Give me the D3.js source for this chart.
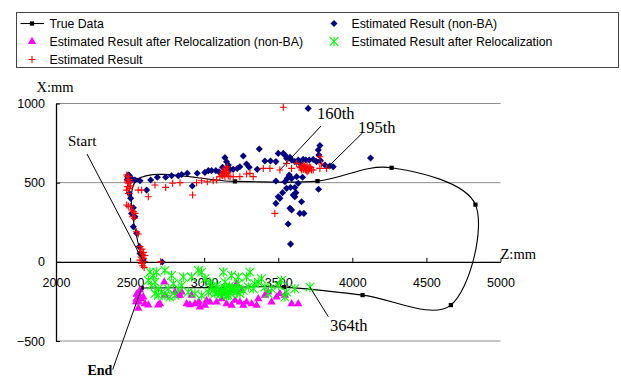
<!DOCTYPE html>
<html>
<head>
<meta charset="utf-8">
<script src="https://cdn.jsdelivr.net/npm/d3@7"></script>
<style>
  body { margin: 0; background: #fff; }
  svg { display: block; }
  .tick text { font-family: "Liberation Sans", Arial, sans-serif; font-size: 12.5px; fill: #000; }
</style>
</head>
<body>
<svg id="chart" width="621" height="376"></svg>
<script>
// true trajectory (Z, X in mm)
const trueZ = [2590, 2545, 3208, 3765, 4265, 4831, 4665, 4069, 3540, 3050, 2578];
const trueX = [0, 517, 508, 510, 594, 361, -273, -210, -160, -163, -165];

// Estimated Result (non-BA)
const nonBaZ = [2488, 2515, 2533, 2567, 2612, 2639, 2684, 2740, 2780, 2825, 2848, 2886, 2953, 3005, 3028, 3050, 3079, 3100,
  3124, 3140, 3151, 3163, 3174, 3196, 3223, 3241, 3264, 3286, 3304, 3358, 3372, 3410, 3448, 3484, 3500, 3534, 3545, 3556,
  3579, 3590, 3612, 3635, 3646, 3668, 3686, 3709, 3736, 3758, 3781, 3770, 3774, 3785, 3815, 3848, 3871, 4123, 3702, 2920, 2717,
  3484, 3545, 3561, 3574, 3590, 3624, 3635, 3664, 3556, 3583, 3612, 3529, 3601, 3612, 3619, 3511, 3657, 3579, 3590, 3646,
  3673, 3567, 3583, 3772, 3484, 3500,
  2504, 2495, 2522, 2510, 2533, 2522, 2544, 2562, 2578, 2589, 2567, 2484, 2499, 2495, 2480];
const nonBaX = [548, 521, 517, 512, 453, 517, 534, 534, 544, 544, 552, 559, 559, 565, 576, 576, 576, 569,
  597, 658, 632, 611, 584, 584, 590, 601, 668, 618, 597, 584, 713, 637, 637, 633, 685, 685, 675, 654,
  660, 643, 633, 643, 622, 647, 643, 643, 647, 633, 734, 706, 675, 639, 612, 605, 601, 656, 969, 479, -1,
  510, 506, 527, 548, 527, 538, 496, 534, 464, 470, 470, 437, 422, 411, 437, 401, 380, 338, 327, 306,
  306, 239, 112, 458, 369, 411,
  401, 432, 342, 306, 285, 222, 180, 96, 43, 11, 53, 538, 517, 545, 520];

// Estimated Result after Relocalization (non-BA)
const relocNonBaZ = [2555, 2544, 2560, 2573, 2600, 2589, 2731, 2735, 2702, 2803, 2837, 2882, 2904, 2938, 2965, 2971, 3005,
  3016, 3039, 3084, 3118, 3140, 3151, 3185, 3208, 3219, 3241, 3264, 3286, 3320, 3354, 3365, 3410, 3432, 3455, 3489, 3511,
  3545, 3590, 3635, 2848, 2825, 2915, 3253, 2544, 2555, 2540, 2623, 2567, 2690];
const relocNonBaX = [-201, -233, -254, -233, -265, -222, -128, -212, -265, -191, -212, -265, -271, -265, -254, -286, -275,
  -244, -254, -254, -233, -201, -265, -275, -244, -138, -254, -275, -254, -265, -275, -233, -212, -191, -254, -222, -201,
  -212, -265, -265, -191, -212, -212, -180, -205, -294, -252, -273, -178, -273];

// Estimated Result after Relocalization
const relocZ = [2634, 2657, 2679, 2623, 2645, 2668, 2690, 2713, 2735, 2690, 2668, 2758, 2792, 2825, 2848, 2859, 2915, 2960,
  2983, 3005, 3039, 3050, 3084, 3095, 3118, 3140, 3140, 3151, 3163, 3185, 3208, 3230, 3241, 3264, 3286, 3298, 3309, 3331,
  3342, 3365, 3387, 3410, 3432, 3455, 3500, 3522, 3545, 3556, 3612, 3714, 2735, 2780, 3129, 3185, 3230, 3073, 3028, 2983,
  2938, 2893, 2803, 2769, 3100, 3120, 3140, 3160, 3180, 3200, 3220, 3170, 3110, 3060, 3230, 3150, 3190];
const relocX = [-65, -86, -65, -117, -149, -128, -170, -191, -212, -212, -201, -170, -138, -170, -149, -96, -96, -54,
  -65, -107, -128, -159, -149, -191, -180, -128, -201, -170, -212, -180, -170, -138, -201, -180, -96, -159, -65, -170,
  -138, -128, -107, -159, -201, -170, -149, -117, -222, -191, -170, -160, -54, -86, -65, -86, -96, -201, -191, -212,
  -201, -191, -212, -222, -175, -190, -165, -185, -200, -180, -190, -155, -205, -180, -170, -215, -165];

// Estimated Result
const estZ = [2477, 2488, 2483, 2488, 2483, 2495, 2477, 2488, 2499, 2504, 2477, 2488, 2504, 2510, 2522, 2533, 2517, 2528,
  2544, 2555, 2567, 2571, 2585, 2589, 2578, 2567, 2594, 2580, 2590, 2575, 2600, 2585, 2595, 2492, 2485,
  2555, 2578, 2623, 2668, 2740, 2787, 2837, 2922, 2949, 2983, 3021, 3061, 3084, 3106, 3118, 3129, 3134, 3140, 3151, 3163,
  3174, 3196, 3241, 3286, 3309, 3331, 3399, 3444, 3477, 3511, 3534, 3130, 3145, 3150, 3135, 3155, 3125, 3160,
  3556, 3590, 3624, 3646, 3657, 3668, 3680, 3691, 3702, 3713, 3673, 3695, 3725, 3736, 3781, 3792, 3826, 3781, 3650, 3660,
  3670, 3685, 3695, 3675, 3705, 3720, 2706];
const estX = [548, 538, 517, 496, 475, 464, 453, 432, 506, 479, 359, 352, 348, 327, 317, 306, 285, 275,
  190, 176, 96, 64, 43, 22, -10, 11, 1, 80, 60, 30, 40, -25, -35, 520, 505,
  453, 453, 411, 485, 470, 496, 500, 422, 500, 512, 506, 512, 517, 538, 548, 559, 580, 538, 559, 542,
  538, 538, 538, 555, 559, 538, 590, 590, 306, 580, 976, 570, 590, 575, 555, 600, 545, 565,
  622, 590, 622, 601, 580, 590, 601, 580, 590, 601, 611, 569, 580, 580, 590, 618, 590, 664, 595, 605,
  585, 580, 612, 600, 575, 595, 0];

const xTicks = [2000, 2500, 3000, 3500, 4000, 4500, 5000];
const yTicks = [-500, 0, 500, 1000];
const seriesNames = ['True Data', 'Estimated Result (non-BA)', 'Estimated Result after Relocalization (non-BA)',
  'Estimated Result after Relocalization', 'Estimated Result'];

const zip = (zs, xs) => zs.map((z, i) => ({ z: z, x: xs[i] }));

const svg = d3.select('#chart');
const x = d3.scaleLinear().domain([2000, 5000]).range([56, 500.5]);
const y = d3.scaleLinear().domain([-500, 1000]).range([341, 103.5]);

// gridlines
svg.append('g')
  .selectAll('line')
  .data([500, 1000])
  .enter()
  .append('line')
  .attr('x1', x(2000)).attr('x2', x(5000))
  .attr('y1', d => y(d)).attr('y2', d => y(d))
  .style('stroke', '#8c8c8c').style('stroke-width', 1);
svg.append('line')
  .attr('x1', x(2000)).attr('x2', x(5000))
  .attr('y1', y(-500)).attr('y2', y(-500))
  .style('stroke', '#c4c4c4').style('stroke-width', 2);

// axes
svg.append('g')
  .attr('transform', `translate(${x(2000)},0)`)
  .call(d3.axisLeft(y).tickValues(yTicks).tickFormat(d3.format('d'))
    .tickSizeInner(-4).tickSizeOuter(0).tickPadding(11));
svg.append('g')
  .attr('transform', `translate(0,${y(0)})`)
  .call(d3.axisBottom(x).tickValues(xTicks).tickFormat(d3.format('d'))
    .tickSizeInner(-4).tickSizeOuter(0).tickPadding(16));
svg.selectAll('.domain').style('stroke', '#000').style('stroke-width', 1.3);
svg.selectAll('.tick line').style('stroke', '#000');

// axis titles
svg.append('text')
  .attr('x', 36.5).attr('y', 92)
  .style('font-family', '"Liberation Serif", "Times New Roman", serif')
  .style('font-size', '14.5px')
  .text('X:mm');
svg.append('text')
  .attr('x', 500.5).attr('y', 258.5)
  .style('font-family', '"Liberation Serif", "Times New Roman", serif')
  .style('font-size', '14.5px')
  .text('Z:mm');

// true data line
const line = d3.line()
  .x(d => x(d.z))
  .y(d => y(d.x))
  .curve(d3.curveCardinal.tension(0));
const trueData = zip(trueZ, trueX);
svg.append('path')
  .datum(trueData)
  .attr('d', line)
  .style('fill', 'none')
  .style('stroke', '#000')
  .style('stroke-width', 1.1);

const squarePath = d3.symbol().type(d3.symbolSquare).size(18)();
const diamondPath = d3.symbol().type(d3.symbolSquare).size(25)();
const trianglePath = d3.symbol().type(d3.symbolTriangle).size(30)();
const plusPath = 'M-3.5,0H3.5M0,-3.5V3.5';
const starPath = 'M-4.3,-4.3L4.3,4.3M-4.3,4.3L4.3,-4.3M0,-4.8V4.8';

svg.append('g')
  .selectAll('path')
  .data(trueData)
  .enter()
  .append('path')
  .attr('d', squarePath)
  .attr('transform', d => `translate(${x(d.z)},${y(d.x)})`)
  .style('fill', '#000');

// Estimated Result (non-BA)
svg.append('g')
  .selectAll('path')
  .data(zip(nonBaZ, nonBaX))
  .enter()
  .append('path')
  .attr('d', diamondPath)
  .attr('transform', d => `translate(${x(d.z)},${y(d.x)}) rotate(45)`)
  .style('fill', '#000080');

// after relocalization (non-BA)
svg.append('g')
  .selectAll('path')
  .data(zip(relocNonBaZ, relocNonBaX))
  .enter()
  .append('path')
  .attr('d', trianglePath)
  .attr('transform', d => `translate(${x(d.z)},${y(d.x)})`)
  .style('fill', '#ff00ff');

// after relocalization
svg.append('g')
  .selectAll('path')
  .data(zip(relocZ, relocX))
  .enter()
  .append('path')
  .attr('d', starPath)
  .attr('transform', d => `translate(${x(d.z)},${y(d.x)})`)
  .style('fill', 'none')
  .style('stroke', '#00ff00')
  .style('stroke-width', 1.1);

// Estimated Result
svg.append('g')
  .selectAll('path')
  .data(zip(estZ, estX))
  .enter()
  .append('path')
  .attr('d', plusPath)
  .attr('transform', d => `translate(${x(d.z)},${y(d.x)})`)
  .style('fill', 'none')
  .style('stroke', '#ff0000')
  .style('stroke-width', 1.1);

// annotations: label position + pointer start (px), target in data units
const notes = [
  { label: 'Start', z: trueZ[0], x: trueX[0], tx: 68, ty: 146, lx: 87, ly: 154, size: 15, weight: 'normal' },
  { label: 'End', z: trueZ[trueZ.length - 1], x: trueX[trueX.length - 1], tx: 87.5, ty: 374.5, lx: 112.7, ly: 369.5, size: 14, weight: 'bold' },
  { label: '160th', z: 3511, x: 580, tx: 317, ty: 118.5, lx: 321, ly: 126, size: 16.5, weight: 'normal' },
  { label: '195th', z: 3826, x: 590, tx: 358, ty: 133, lx: 362.7, ly: 132.7, size: 16.5, weight: 'normal' },
  { label: '364th', z: 3714, x: -160, tx: 330, ty: 331, lx: 328.3, ly: 316.7, size: 16.5, weight: 'normal' }
];
svg.append('g')
  .selectAll('line')
  .data(notes)
  .enter()
  .append('line')
  .attr('x1', d => d.lx).attr('y1', d => d.ly)
  .attr('x2', d => x(d.z)).attr('y2', d => y(d.x))
  .style('stroke', '#000').style('stroke-width', 1);
svg.append('g')
  .selectAll('text')
  .data(notes)
  .enter()
  .append('text')
  .attr('x', d => d.tx).attr('y', d => d.ty)
  .style('font-family', '"Liberation Serif", "Times New Roman", serif')
  .style('font-size', d => d.size + 'px')
  .style('font-weight', d => d.weight)
  .text(d => d.label);

// legend
const legend = svg.append('g');
legend.append('rect')
  .attr('x', 16.5).attr('y', 12.5).attr('width', 602).attr('height', 55)
  .style('fill', '#fff').style('stroke', '#444').style('stroke-width', 1);
const legendPos = [
  { col: 0, row: 0 }, { col: 1, row: 0 }, { col: 0, row: 1 }, { col: 1, row: 1 }, { col: 0, row: 2 }
];
const colX = [32, 334];
const rowY = [23.5, 41.5, 59.5];
const items = legend.selectAll('g')
  .data(seriesNames)
  .enter()
  .append('g')
  .attr('transform', (d, i) => `translate(${colX[legendPos[i].col]},${rowY[legendPos[i].row]})`);
items.append('text')
  .attr('x', 17.5).attr('y', 0).attr('dy', '0.36em')
  .style('font-family', '"Liberation Sans", Arial, sans-serif')
  .style('font-size', '12.3px')
  .text(d => d);
items.each(function (d, i) {
  const g = d3.select(this);
  if (i === 0) {
    g.append('line').attr('x1', -11.5).attr('x2', 12).attr('y1', 0).attr('y2', 0)
      .style('stroke', '#000').style('stroke-width', 1.1);
    g.append('path').attr('d', squarePath).style('fill', '#000');
  } else if (i === 1) {
    g.append('path').attr('d', diamondPath).attr('transform', 'rotate(45)').style('fill', '#000080');
  } else if (i === 2) {
    g.append('path').attr('d', trianglePath).style('fill', '#ff00ff');
  } else if (i === 3) {
    g.append('path').attr('d', starPath).style('fill', 'none').style('stroke', '#00ff00').style('stroke-width', 1.1);
  } else {
    g.append('path').attr('d', plusPath).style('fill', 'none').style('stroke', '#ff0000').style('stroke-width', 1.1);
  }
});
</script>
</body>
</html>
